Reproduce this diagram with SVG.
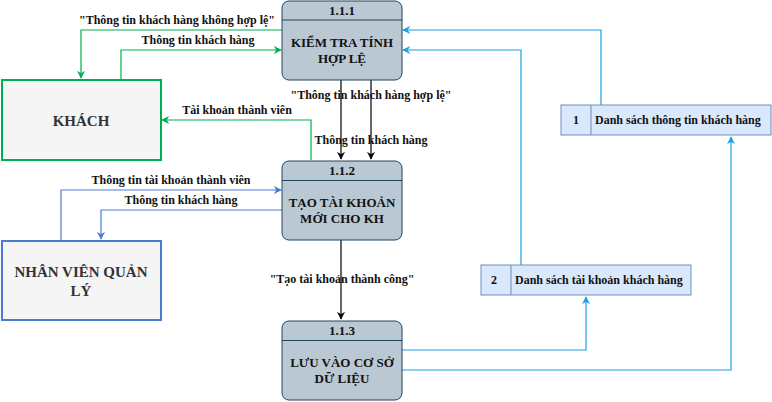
<svg xmlns="http://www.w3.org/2000/svg" width="772" height="402" viewBox="0 0 772 402">
<defs>
<style>
text{font-family:"Liberation Serif","Times New Roman",serif;font-weight:bold;}
.proc{fill:#bac8d3;stroke:#23445d;stroke-width:1;}
.pt{font-size:13px;fill:#111;text-anchor:middle;}
.div{stroke:#23445d;stroke-width:1;}
.lbl{font-size:12px;fill:#111;}
.ent{fill:#f5f5f5;stroke-width:2;}
.et{font-size:15px;fill:#333;text-anchor:middle;}
.store{fill:#dae8fc;stroke:#6c8ebf;stroke-width:1;}
.st{font-size:12px;fill:#111;}
.g{fill:none;stroke:#00b050;stroke-width:1.2;}
.b{fill:none;stroke:#4a7bd0;stroke-width:1.2;}
.k{fill:none;stroke:#000;stroke-width:1.2;}
.c{fill:none;stroke:#1ba1e2;stroke-width:1.2;}
</style>
<marker id="ag" viewBox="0 0 10 10" refX="9" refY="5" markerWidth="8" markerHeight="8" orient="auto" markerUnits="userSpaceOnUse"><path d="M0,0 L10,5 L0,10 L3,5 Z" fill="#00b050"/></marker>
<marker id="ab" viewBox="0 0 10 10" refX="9" refY="5" markerWidth="8" markerHeight="8" orient="auto" markerUnits="userSpaceOnUse"><path d="M0,0 L10,5 L0,10 L3,5 Z" fill="#4a7bd0"/></marker>
<marker id="ak" viewBox="0 0 10 10" refX="9" refY="5" markerWidth="8" markerHeight="8" orient="auto" markerUnits="userSpaceOnUse"><path d="M0,0 L10,5 L0,10 L3,5 Z" fill="#000"/></marker>
<marker id="ac" viewBox="0 0 10 10" refX="9" refY="5" markerWidth="8" markerHeight="8" orient="auto" markerUnits="userSpaceOnUse"><path d="M0,0 L10,5 L0,10 L3,5 Z" fill="#1ba1e2"/></marker>
</defs>
<rect width="772" height="402" fill="#fff"/>

<g id="connectors">
<path class="g" d="M282,30 H81 V78" marker-end="url(#ag)"/>
<path class="g" d="M121,79 V50 H281" marker-end="url(#ag)"/>
<path class="g" d="M311,160 V120 H162" marker-end="url(#ag)"/>
<path class="k" d="M341,80 V159" marker-end="url(#ak)"/>
<path class="k" d="M371,80 V159" marker-end="url(#ak)"/>
<path class="b" d="M61,240 V190 H281" marker-end="url(#ab)"/>
<path class="b" d="M282,210 H101 V239" marker-end="url(#ab)"/>
<path class="k" d="M341,240 V319" marker-end="url(#ak)"/>
<path class="c" d="M402,350 H586 V297" marker-end="url(#ac)"/>
<path class="c" d="M402,370 H731 V137" marker-end="url(#ac)"/>
<path class="c" d="M601,105 V30 H403" marker-end="url(#ac)"/>
<path class="c" d="M521,265 V50 H403" marker-end="url(#ac)"/>
<text class="lbl" x="177" y="24" text-anchor="middle">"Thông tin khách hàng không hợp lệ"</text>
<text class="lbl" x="198" y="44" text-anchor="middle">Thông tin khách hàng</text>
<text class="lbl" x="237" y="114" text-anchor="middle">Tài khoản thành viên</text>
<text class="lbl" x="371" y="99" text-anchor="middle">"Thông tin khách hàng hợp lệ"</text>
<text class="lbl" x="371" y="144" text-anchor="middle">Thông tin khách hàng</text>
<text class="lbl" x="171" y="184" text-anchor="middle">Thông tin tài khoản thành viên</text>
<text class="lbl" x="181" y="204" text-anchor="middle">Thông tin khách hàng</text>
<text class="lbl" x="342" y="283" text-anchor="middle">"Tạo tài khoản thành công"</text>
</g>

<g id="p111">
<rect class="proc" x="282" y="1" width="120" height="79" rx="7"/>
<line class="div" x1="282" y1="20" x2="402" y2="20"/>
<text class="pt" x="342" y="15">1.1.1</text>
<text class="pt" x="342" y="47">KIỂM TRA TÍNH</text>
<text class="pt" x="342" y="63">HỢP LỆ</text>
</g>

<g id="p112">
<rect class="proc" x="282" y="161" width="120" height="79" rx="7"/>
<line class="div" x1="282" y1="180.5" x2="402" y2="180.5"/>
<text class="pt" x="342" y="175">1.1.2</text>
<text class="pt" x="342" y="207">TẠO TÀI KHOẢN</text>
<text class="pt" x="342" y="223">MỚI CHO KH</text>
</g>

<g id="p113">
<rect class="proc" x="282" y="321" width="120" height="79" rx="7"/>
<line class="div" x1="282" y1="340.5" x2="402" y2="340.5"/>
<text class="pt" x="342" y="335">1.1.3</text>
<text class="pt" x="342" y="367">LƯU VÀO CƠ SỞ</text>
<text class="pt" x="342" y="383">DỮ LIỆU</text>
</g>

<g id="khach">
<rect class="ent" x="2" y="80" width="159" height="80" stroke="#00b050"/>
<text class="et" x="81" y="126">KHÁCH</text>
</g>

<g id="nhanvien">
<rect class="ent" x="2" y="241" width="159" height="79" stroke="#4a7bd0"/>
<text class="et" x="81" y="277">NHÂN VIÊN QUẢN</text>
<text class="et" x="81" y="296">LÝ</text>
</g>

<g id="store1">
<rect class="store" x="561" y="105" width="210" height="30"/>
<line class="store" x1="591" y1="105" x2="591" y2="135"/>
<text class="st" x="576" y="124" text-anchor="middle">1</text>
<text class="st" x="595" y="124">Danh sách thông tin khách hàng</text>
</g>

<g id="store2">
<rect class="store" x="481" y="265" width="210" height="30"/>
<line class="store" x1="511" y1="265" x2="511" y2="295"/>
<text class="st" x="494" y="284" text-anchor="middle">2</text>
<text class="st" x="515" y="284">Danh sách tài khoản khách hàng</text>
</g>
</svg>
